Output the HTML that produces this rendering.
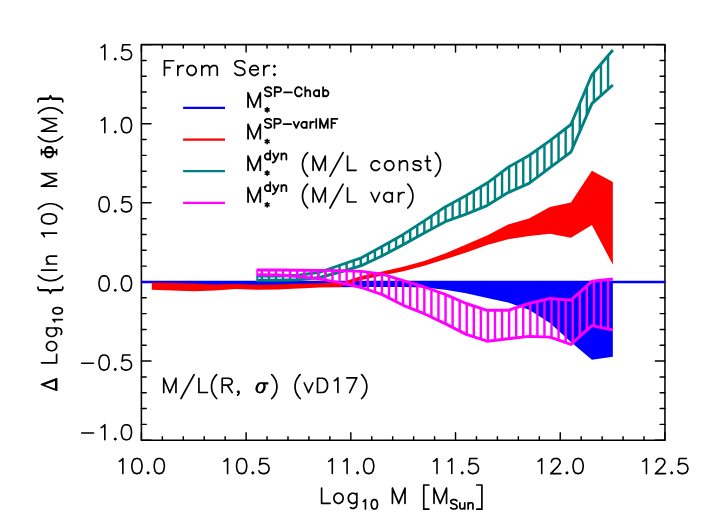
<!DOCTYPE html>
<html lang="en"><head><meta charset="utf-8"><title>Mass function residuals</title><style>html,body{margin:0;padding:0;background:#fff;overflow:hidden;font-family:"Liberation Sans",sans-serif}svg{display:block}</style></head><body>
<svg width="706" height="530" viewBox="0 0 706 530" role="img" aria-label="Delta Log10 mass function residual chart">
<rect width="706" height="530" fill="#fff"/>
<path d="M141.4 440.2v-7.5M141.4 44.6v7.5M162.34 440.2v-3.4M162.34 44.6v3.4M183.28 440.2v-3.4M183.28 44.6v3.4M204.23 440.2v-3.4M204.23 44.6v3.4M225.17 440.2v-3.4M225.17 44.6v3.4M246.11 440.2v-7.5M246.11 44.6v7.5M267.05 440.2v-3.4M267.05 44.6v3.4M287.99 440.2v-3.4M287.99 44.6v3.4M308.94 440.2v-3.4M308.94 44.6v3.4M329.88 440.2v-3.4M329.88 44.6v3.4M350.82 440.2v-7.5M350.82 44.6v7.5M371.76 440.2v-3.4M371.76 44.6v3.4M392.7 440.2v-3.4M392.7 44.6v3.4M413.65 440.2v-3.4M413.65 44.6v3.4M434.59 440.2v-3.4M434.59 44.6v3.4M455.53 440.2v-7.5M455.53 44.6v7.5M476.47 440.2v-3.4M476.47 44.6v3.4M497.41 440.2v-3.4M497.41 44.6v3.4M518.36 440.2v-3.4M518.36 44.6v3.4M539.3 440.2v-3.4M539.3 44.6v3.4M560.24 440.2v-7.5M560.24 44.6v7.5M581.18 440.2v-3.4M581.18 44.6v3.4M602.12 440.2v-3.4M602.12 44.6v3.4M623.07 440.2v-3.4M623.07 44.6v3.4M644.01 440.2v-3.4M644.01 44.6v3.4M664.95 440.2v-7.5M664.95 44.6v7.5M141.4 440.2h9.6M664.95 440.2h-9.6M141.4 424.38h4.8M664.95 424.38h-4.8M141.4 408.55h4.8M664.95 408.55h-4.8M141.4 392.73h4.8M664.95 392.73h-4.8M141.4 376.9h4.8M664.95 376.9h-4.8M141.4 361.08h9.6M664.95 361.08h-9.6M141.4 345.26h4.8M664.95 345.26h-4.8M141.4 329.43h4.8M664.95 329.43h-4.8M141.4 313.61h4.8M664.95 313.61h-4.8M141.4 297.78h4.8M664.95 297.78h-4.8M141.4 281.96h9.6M664.95 281.96h-9.6M141.4 266.14h4.8M664.95 266.14h-4.8M141.4 250.31h4.8M664.95 250.31h-4.8M141.4 234.49h4.8M664.95 234.49h-4.8M141.4 218.66h4.8M664.95 218.66h-4.8M141.4 202.84h9.6M664.95 202.84h-9.6M141.4 187.02h4.8M664.95 187.02h-4.8M141.4 171.19h4.8M664.95 171.19h-4.8M141.4 155.37h4.8M664.95 155.37h-4.8M141.4 139.54h4.8M664.95 139.54h-4.8M141.4 123.72h9.6M664.95 123.72h-9.6M141.4 107.9h4.8M664.95 107.9h-4.8M141.4 92.07h4.8M664.95 92.07h-4.8M141.4 76.25h4.8M664.95 76.25h-4.8M141.4 60.42h4.8M664.95 60.42h-4.8M141.4 44.6h9.6M664.95 44.6h-9.6" stroke="#000" stroke-width="1.45" stroke-linecap="round" fill="none"/>
<rect x="141.4" y="44.6" width="523.55" height="395.6" fill="none" stroke="#000" stroke-width="1.55" stroke-linejoin="round"/>
<polygon points="151.8,281 172.76,281 193.71,281 214.67,281 235.63,281 256.59,281 277.54,281 298.5,281 319.46,281 340.41,281 361.37,281 382.33,281 403.28,281 424.24,281 445.2,281 466.16,281 487.11,281 508.07,281 529.03,281 549.98,281 570.94,281 591.9,281 612.85,281 612.85,356.8 591.9,359.7 570.94,342.1 549.98,323 529.03,309.8 508.07,302.4 487.11,297.9 466.16,293.3 445.2,289.8 424.24,287.6 403.28,287 382.33,287 361.37,287 340.41,287.2 319.46,287 298.5,287 277.54,287 256.59,287 235.63,287 214.67,287 193.71,286.5 172.76,285 151.8,283.4" fill="#0000ff"/>
<line x1="141.4" y1="282" x2="664.95" y2="282" stroke="#0000ff" stroke-width="2.4"/>
<polygon points="151.8,282.5 172.76,283.1 193.71,283.6 214.67,284.6 235.63,284.1 256.59,284.8 277.54,284.4 298.5,283.8 319.46,283.3 340.41,282.7 361.37,276 382.33,271.6 403.28,266.8 424.24,261 445.2,253.4 466.16,244.5 487.11,235.5 508.07,224.6 529.03,218.5 549.98,207.1 570.94,202.6 591.9,170.65 612.85,182 612.85,264.7 591.9,225 570.94,237.7 549.98,233.7 529.03,235.9 508.07,239.3 487.11,245 466.16,252.5 445.2,259.3 424.24,265.7 403.28,271.2 382.33,275.4 361.37,279.9 340.41,286.9 319.46,287.4 298.5,288.5 277.54,289.4 256.59,289.7 235.63,289 214.67,290.6 193.71,291.3 172.76,290.5 151.8,289.8" fill="#ff0000"/>
<path d="M261.85 276.1V280.3M268.92 276.1V280.3M275.98 276.1V280.3M283.05 275.86V280.17M290.11 275.56V280M297.18 275.26V279.83M304.24 274.41V279.17M311.31 273.43V278.39M318.37 272.45V277.62M325.44 270.22V275.93M332.5 267.76V274.08M339.56 265.3V272.22M346.63 262.86V270.1M353.69 260.44V267.94M360.76 258.01V265.79M367.82 254.26V262.58M374.89 250.38V259.28M381.95 246.5V255.97M389.02 242.5V252.22M396.08 238.49V248.45M403.15 234.48V244.67M410.21 229.94V240.8M417.28 225.38V236.92M424.34 220.83V233.04M431.41 216.11V229.2M438.47 211.39V225.36M445.54 206.71V221.58M452.6 202.84V219.01M459.67 198.96V216.45M466.73 195.06V213.86M473.8 190.91V211M480.86 186.77V208.13M487.93 182.48V205.09M494.99 177.16V200.71M502.06 171.83V196.33M509.12 166.71V192.14M516.19 162.73V189.03M523.25 158.75V185.93M530.32 154.58V182.42M537.39 149.56V177.1M544.45 144.53V171.77M551.52 139.42V166.46M558.58 134V161.2M565.65 128.57V155.94M572.71 120.3V147.92M579.78 103.55V131.64M586.84 86.79V115.35M593.91 72.42V101.91M600.97 64.06V95.6M608.04 55.7V89.3" stroke="#008080" stroke-width="2.4" fill="none"/><polyline points="256.59,276.1 277.54,276.1 298.5,275.2 319.46,272.3 340.41,265 361.37,257.8 382.33,246.3 403.28,234.4 424.24,220.9 445.2,206.9 466.16,195.4 487.11,183.1 508.07,167.3 529.03,155.5 549.98,140.6 570.94,124.5 591.9,74.8 612.85,50" fill="none" stroke="#008080" stroke-width="2.9" stroke-linejoin="round"/><polyline points="256.59,280.3 277.54,280.3 298.5,279.8 319.46,277.5 340.41,272 361.37,265.6 382.33,255.8 403.28,244.6 424.24,233.1 445.2,221.7 466.16,214.1 487.11,205.6 508.07,192.6 529.03,183.4 549.98,167.6 570.94,152 591.9,103.7 612.85,85" fill="none" stroke="#008080" stroke-width="2.9" stroke-linejoin="round"/><line x1="257.14" y1="276.1" x2="257.14" y2="280.3" stroke="#008080" stroke-width="1.6"/>
<path d="M261.85 270V274.85M268.92 270V274.92M275.98 270V274.99M283.05 270.05V275.39M290.11 270.12V275.9M297.18 270.19V276.41M304.24 270.25V277.16M311.31 270.32V277.97M318.37 270.39V278.78M325.44 270.46V280.04M332.5 270.52V281.39M339.56 270.59V282.74M346.63 270.84V284.26M353.69 271.11V285.82M360.76 271.38V287.37M367.82 272.23V289.69M374.89 273.14V292.08M381.95 274.05V294.47M389.02 276.18V298.02M396.08 278.37V301.62M403.15 280.56V305.23M410.21 282.72V308.08M417.28 284.87V310.91M424.34 287.04V313.75M431.41 289.5V317.09M438.47 291.96V320.42M445.54 294.45V323.78M452.6 297.55V327.42M459.67 300.65V331.06M466.73 303.69V334.59M473.8 305.98V336.88M480.86 308.27V339.17M487.93 310.3V341.1M494.99 310.3V340.26M502.06 310.3V339.42M509.12 309.96V338.58M516.19 307.66V337.81M523.25 305.37V337.03M530.32 303.19V336.44M537.39 301.51V336.68M544.45 299.82V336.92M551.52 298.62V337.63M558.58 299.16V340.05M565.65 299.7V342.48M572.71 298.51V342.73M579.78 292.17V336.46M586.84 285.84V330.19M593.91 281.08V326.11M600.97 280.3V327.56M608.04 279.53V329.01" stroke="#ff00ff" stroke-width="2.4" fill="none"/><polyline points="256.59,270 277.54,270 298.5,270.2 319.46,270.4 340.41,270.6 361.37,271.4 382.33,274.1 403.28,280.6 424.24,287 445.2,294.3 466.16,303.5 487.11,310.3 508.07,310.3 529.03,303.5 549.98,298.5 570.94,300.1 591.9,281.3 612.85,279" fill="none" stroke="#ff00ff" stroke-width="2.9" stroke-linejoin="round"/><polyline points="256.59,274.8 277.54,275 298.5,276.5 319.46,278.9 340.41,282.9 361.37,287.5 382.33,294.6 403.28,305.3 424.24,313.7 445.2,323.6 466.16,334.4 487.11,341.2 508.07,338.7 529.03,336.4 549.98,337.1 570.94,344.3 591.9,325.7 612.85,330" fill="none" stroke="#ff00ff" stroke-width="2.9" stroke-linejoin="round"/><line x1="257.14" y1="270" x2="257.14" y2="274.8" stroke="#ff00ff" stroke-width="1.6"/>
<path transform="translate(131.5 59.8)" d="M-30.29 -12.22 L-28.84 -12.94 L-26.67 -15.1 L-26.67 0M-16.23 -1.44 L-16.95 -0.72 L-16.23 0 L-15.51 -0.72 L-16.23 -1.44M-1.45 -15.1 L-8.67 -15.1 L-9.4 -8.63 L-8.67 -9.35 L-6.5 -10.07 L-4.34 -10.07 L-2.17 -9.35 L-0.72 -7.91 L0 -5.75 L0 -4.31 L-0.72 -2.16 L-2.17 -0.72 L-4.34 0 L-6.5 0 L-8.67 -0.72 L-9.4 -1.44 L-10.12 -2.88" fill="none" stroke="#000" stroke-width="1.6" stroke-linecap="round" stroke-linejoin="round"/>
<path transform="translate(131.5 132.72)" d="M-30.29 -12.22 L-28.84 -12.94 L-26.67 -15.1 L-26.67 0M-16.23 -1.44 L-16.95 -0.72 L-16.23 0 L-15.51 -0.72 L-16.23 -1.44M-5.78 -15.1 L-7.95 -14.38 L-9.4 -12.22 L-10.12 -8.63 L-10.12 -6.47 L-9.4 -2.88 L-7.95 -0.72 L-5.78 0 L-4.34 0 L-2.17 -0.72 L-0.72 -2.88 L0 -6.47 L0 -8.63 L-0.72 -12.22 L-2.17 -14.38 L-4.34 -15.1 L-5.78 -15.1" fill="none" stroke="#000" stroke-width="1.6" stroke-linecap="round" stroke-linejoin="round"/>
<path transform="translate(131.5 211.84)" d="M-28.12 -15.1 L-30.29 -14.38 L-31.73 -12.22 L-32.46 -8.63 L-32.46 -6.47 L-31.73 -2.88 L-30.29 -0.72 L-28.12 0 L-26.67 0 L-24.51 -0.72 L-23.06 -2.88 L-22.34 -6.47 L-22.34 -8.63 L-23.06 -12.22 L-24.51 -14.38 L-26.67 -15.1 L-28.12 -15.1M-16.23 -1.44 L-16.95 -0.72 L-16.23 0 L-15.51 -0.72 L-16.23 -1.44M-1.45 -15.1 L-8.67 -15.1 L-9.4 -8.63 L-8.67 -9.35 L-6.5 -10.07 L-4.34 -10.07 L-2.17 -9.35 L-0.72 -7.91 L0 -5.75 L0 -4.31 L-0.72 -2.16 L-2.17 -0.72 L-4.34 0 L-6.5 0 L-8.67 -0.72 L-9.4 -1.44 L-10.12 -2.88" fill="none" stroke="#000" stroke-width="1.6" stroke-linecap="round" stroke-linejoin="round"/>
<path transform="translate(131.5 290.96)" d="M-28.12 -15.1 L-30.29 -14.38 L-31.73 -12.22 L-32.46 -8.63 L-32.46 -6.47 L-31.73 -2.88 L-30.29 -0.72 L-28.12 0 L-26.67 0 L-24.51 -0.72 L-23.06 -2.88 L-22.34 -6.47 L-22.34 -8.63 L-23.06 -12.22 L-24.51 -14.38 L-26.67 -15.1 L-28.12 -15.1M-16.23 -1.44 L-16.95 -0.72 L-16.23 0 L-15.51 -0.72 L-16.23 -1.44M-5.78 -15.1 L-7.95 -14.38 L-9.4 -12.22 L-10.12 -8.63 L-10.12 -6.47 L-9.4 -2.88 L-7.95 -0.72 L-5.78 0 L-4.34 0 L-2.17 -0.72 L-0.72 -2.88 L0 -6.47 L0 -8.63 L-0.72 -12.22 L-2.17 -14.38 L-4.34 -15.1 L-5.78 -15.1" fill="none" stroke="#000" stroke-width="1.6" stroke-linecap="round" stroke-linejoin="round"/>
<path transform="translate(131.5 370.08)" d="M-49.84 -6.87 L-37.99 -6.87M-28.12 -15.1 L-30.29 -14.38 L-31.73 -12.22 L-32.46 -8.63 L-32.46 -6.47 L-31.73 -2.88 L-30.29 -0.72 L-28.12 0 L-26.67 0 L-24.51 -0.72 L-23.06 -2.88 L-22.34 -6.47 L-22.34 -8.63 L-23.06 -12.22 L-24.51 -14.38 L-26.67 -15.1 L-28.12 -15.1M-16.23 -1.44 L-16.95 -0.72 L-16.23 0 L-15.51 -0.72 L-16.23 -1.44M-1.45 -15.1 L-8.67 -15.1 L-9.4 -8.63 L-8.67 -9.35 L-6.5 -10.07 L-4.34 -10.07 L-2.17 -9.35 L-0.72 -7.91 L0 -5.75 L0 -4.31 L-0.72 -2.16 L-2.17 -0.72 L-4.34 0 L-6.5 0 L-8.67 -0.72 L-9.4 -1.44 L-10.12 -2.88" fill="none" stroke="#000" stroke-width="1.6" stroke-linecap="round" stroke-linejoin="round"/>
<path transform="translate(131.5 439.8)" d="M-49.84 -6.87 L-37.99 -6.87M-30.29 -12.22 L-28.84 -12.94 L-26.67 -15.1 L-26.67 0M-16.23 -1.44 L-16.95 -0.72 L-16.23 0 L-15.51 -0.72 L-16.23 -1.44M-5.78 -15.1 L-7.95 -14.38 L-9.4 -12.22 L-10.12 -8.63 L-10.12 -6.47 L-9.4 -2.88 L-7.95 -0.72 L-5.78 0 L-4.34 0 L-2.17 -0.72 L-0.72 -2.88 L0 -6.47 L0 -8.63 L-0.72 -12.22 L-2.17 -14.38 L-4.34 -15.1 L-5.78 -15.1" fill="none" stroke="#000" stroke-width="1.6" stroke-linecap="round" stroke-linejoin="round"/>
<path transform="translate(141.8 473.6)" d="M-22.54 -12.22 L-21.09 -12.94 L-18.92 -15.1 L-18.92 0M-5.58 -15.1 L-7.75 -14.38 L-9.2 -12.22 L-9.92 -8.63 L-9.92 -6.47 L-9.2 -2.88 L-7.75 -0.72 L-5.58 0 L-4.14 0 L-1.97 -0.72 L-0.53 -2.88 L0.2 -6.47 L0.2 -8.63 L-0.53 -12.22 L-1.97 -14.38 L-4.14 -15.1 L-5.58 -15.1M6.31 -1.44 L5.58 -0.72 L6.31 0 L7.03 -0.72 L6.31 -1.44M16.75 -15.1 L14.59 -14.38 L13.14 -12.22 L12.42 -8.63 L12.42 -6.47 L13.14 -2.88 L14.59 -0.72 L16.75 0 L18.2 0 L20.37 -0.72 L21.81 -2.88 L22.54 -6.47 L22.54 -8.63 L21.81 -12.22 L20.37 -14.38 L18.2 -15.1 L16.75 -15.1" fill="none" stroke="#000" stroke-width="1.6" stroke-linecap="round" stroke-linejoin="round"/>
<path transform="translate(246.51 473.6)" d="M-22.54 -12.22 L-21.09 -12.94 L-18.92 -15.1 L-18.92 0M-5.58 -15.1 L-7.75 -14.38 L-9.2 -12.22 L-9.92 -8.63 L-9.92 -6.47 L-9.2 -2.88 L-7.75 -0.72 L-5.58 0 L-4.14 0 L-1.97 -0.72 L-0.53 -2.88 L0.2 -6.47 L0.2 -8.63 L-0.53 -12.22 L-1.97 -14.38 L-4.14 -15.1 L-5.58 -15.1M6.31 -1.44 L5.58 -0.72 L6.31 0 L7.03 -0.72 L6.31 -1.44M21.09 -15.1 L13.86 -15.1 L13.14 -8.63 L13.86 -9.35 L16.03 -10.07 L18.2 -10.07 L20.37 -9.35 L21.81 -7.91 L22.54 -5.75 L22.54 -4.31 L21.81 -2.16 L20.37 -0.72 L18.2 0 L16.03 0 L13.86 -0.72 L13.14 -1.44 L12.42 -2.88" fill="none" stroke="#000" stroke-width="1.6" stroke-linecap="round" stroke-linejoin="round"/>
<path transform="translate(351.22 473.6)" d="M-22.54 -12.22 L-21.09 -12.94 L-18.92 -15.1 L-18.92 0M-7.75 -12.22 L-6.31 -12.94 L-4.14 -15.1 L-4.14 0M6.31 -1.44 L5.58 -0.72 L6.31 0 L7.03 -0.72 L6.31 -1.44M16.75 -15.1 L14.59 -14.38 L13.14 -12.22 L12.42 -8.63 L12.42 -6.47 L13.14 -2.88 L14.59 -0.72 L16.75 0 L18.2 0 L20.37 -0.72 L21.81 -2.88 L22.54 -6.47 L22.54 -8.63 L21.81 -12.22 L20.37 -14.38 L18.2 -15.1 L16.75 -15.1" fill="none" stroke="#000" stroke-width="1.6" stroke-linecap="round" stroke-linejoin="round"/>
<path transform="translate(455.93 473.6)" d="M-22.54 -12.22 L-21.09 -12.94 L-18.92 -15.1 L-18.92 0M-7.75 -12.22 L-6.31 -12.94 L-4.14 -15.1 L-4.14 0M6.31 -1.44 L5.58 -0.72 L6.31 0 L7.03 -0.72 L6.31 -1.44M21.09 -15.1 L13.86 -15.1 L13.14 -8.63 L13.86 -9.35 L16.03 -10.07 L18.2 -10.07 L20.37 -9.35 L21.81 -7.91 L22.54 -5.75 L22.54 -4.31 L21.81 -2.16 L20.37 -0.72 L18.2 0 L16.03 0 L13.86 -0.72 L13.14 -1.44 L12.42 -2.88" fill="none" stroke="#000" stroke-width="1.6" stroke-linecap="round" stroke-linejoin="round"/>
<path transform="translate(560.64 473.6)" d="M-22.54 -12.22 L-21.09 -12.94 L-18.92 -15.1 L-18.92 0M-9.2 -11.5 L-9.2 -12.22 L-8.48 -13.66 L-7.75 -14.38 L-6.31 -15.1 L-3.42 -15.1 L-1.97 -14.38 L-1.25 -13.66 L-0.53 -12.22 L-0.53 -10.79 L-1.25 -9.35 L-2.69 -7.19 L-9.92 0 L0.2 0M6.31 -1.44 L5.58 -0.72 L6.31 0 L7.03 -0.72 L6.31 -1.44M16.75 -15.1 L14.59 -14.38 L13.14 -12.22 L12.42 -8.63 L12.42 -6.47 L13.14 -2.88 L14.59 -0.72 L16.75 0 L18.2 0 L20.37 -0.72 L21.81 -2.88 L22.54 -6.47 L22.54 -8.63 L21.81 -12.22 L20.37 -14.38 L18.2 -15.1 L16.75 -15.1" fill="none" stroke="#000" stroke-width="1.6" stroke-linecap="round" stroke-linejoin="round"/>
<path transform="translate(665.35 473.6)" d="M-22.54 -12.22 L-21.09 -12.94 L-18.92 -15.1 L-18.92 0M-9.2 -11.5 L-9.2 -12.22 L-8.48 -13.66 L-7.75 -14.38 L-6.31 -15.1 L-3.42 -15.1 L-1.97 -14.38 L-1.25 -13.66 L-0.53 -12.22 L-0.53 -10.79 L-1.25 -9.35 L-2.69 -7.19 L-9.92 0 L0.2 0M6.31 -1.44 L5.58 -0.72 L6.31 0 L7.03 -0.72 L6.31 -1.44M21.09 -15.1 L13.86 -15.1 L13.14 -8.63 L13.86 -9.35 L16.03 -10.07 L18.2 -10.07 L20.37 -9.35 L21.81 -7.91 L22.54 -5.75 L22.54 -4.31 L21.81 -2.16 L20.37 -0.72 L18.2 0 L16.03 0 L13.86 -0.72 L13.14 -1.44 L12.42 -2.88" fill="none" stroke="#000" stroke-width="1.6" stroke-linecap="round" stroke-linejoin="round"/>
<path transform="translate(321.61 503.3)" d="M0 -15.1 L0 0M0 0 L8.5 0M15.83 -10.07 L14.42 -9.35 L13 -7.91 L12.29 -5.75 L12.29 -4.31 L13 -2.16 L14.42 -0.72 L15.83 0 L17.96 0 L19.37 -0.72 L20.79 -2.16 L21.5 -4.31 L21.5 -5.75 L20.79 -7.91 L19.37 -9.35 L17.96 -10.07 L15.83 -10.07M35.21 -10.07 L35.21 1.44 L34.5 3.6 L33.79 4.31 L32.37 5.03 L30.25 5.03 L28.83 4.31M35.21 -7.91 L33.79 -9.35 L32.37 -10.07 L30.25 -10.07 L28.83 -9.35 L27.42 -7.91 L26.71 -5.75 L26.71 -4.31 L27.42 -2.16 L28.83 -0.72 L30.25 0 L32.37 0 L33.79 -0.72 L35.21 -2.16M41.63 -1.88 L42.51 -2.33 L43.83 -3.67 L43.83 5.69M52.33 -3.67 L51.01 -3.22 L50.13 -1.88 L49.69 0.34 L49.69 1.68 L50.13 3.91 L51.01 5.25 L52.33 5.69 L53.21 5.69 L54.52 5.25 L55.4 3.91 L55.84 1.68 L55.84 0.34 L55.4 -1.88 L54.52 -3.22 L53.21 -3.67 L52.33 -3.67" fill="none" stroke="#000" stroke-width="1.7" stroke-linecap="round" stroke-linejoin="round"/>
<path transform="translate(392.45 503.3)" d="M0 -15.1 L0 0M0 -15.1 L6.28 0M12.56 -15.1 L6.28 0M12.56 -15.1 L12.56 0" fill="none" stroke="#000" stroke-width="1.7" stroke-linecap="round" stroke-linejoin="round"/>
<path transform="translate(423.75 503.3)" d="M0 -18.3 L0 5.87M0 -18.3 L5.11 -18.3M0 5.87 L5.11 5.87M10.25 -15.1 L10.25 0M10.25 -15.1 L16.52 0M22.8 -15.1 L16.52 0M22.8 -15.1 L22.8 0M33.21 -2.33 L32.33 -3.22 L31.02 -3.67 L29.26 -3.67 L27.94 -3.22 L27.06 -2.33 L27.06 -1.44 L27.5 -0.55 L27.94 -0.1 L28.82 0.34 L31.45 1.24 L32.33 1.68 L32.77 2.13 L33.21 3.02 L33.21 4.36 L32.33 5.25 L31.02 5.69 L29.26 5.69 L27.94 5.25 L27.06 4.36M36.16 -0.55 L36.16 3.91 L36.6 5.25 L37.48 5.69 L38.8 5.69 L39.68 5.25 L40.99 3.91M40.99 -0.55 L40.99 5.69M44.38 -0.55 L44.38 5.69M44.38 1.24 L45.7 -0.1 L46.58 -0.55 L47.9 -0.55 L48.77 -0.1 L49.21 1.24 L49.21 5.69M58.15 -18.3 L58.15 5.87M53.04 -18.3 L58.15 -18.3M53.04 5.87 L58.15 5.87" fill="none" stroke="#000" stroke-width="1.7" stroke-linecap="round" stroke-linejoin="round"/>
<path transform="translate(56.6 390.15) rotate(-90)" d="M5.66 -15.1 L0 0M5.66 -15.1 L11.33 0M5.66 -12.94 L10.62 0M0.71 -0.72 L10.62 -0.72M0 0 L11.33 0" fill="none" stroke="#000" stroke-width="1.7" stroke-linecap="round" stroke-linejoin="round"/>
<path transform="translate(56.6 362.85) rotate(-90)" d="M0 -15.1 L0 0M0 0 L8.5 0M15.66 -10.07 L14.24 -9.35 L12.82 -7.91 L12.11 -5.75 L12.11 -4.31 L12.82 -2.16 L14.24 -0.72 L15.66 0 L17.78 0 L19.2 -0.72 L20.61 -2.16 L21.32 -4.31 L21.32 -5.75 L20.61 -7.91 L19.2 -9.35 L17.78 -10.07 L15.66 -10.07M34.85 -10.07 L34.85 1.44 L34.14 3.6 L33.44 4.31 L32.02 5.03 L29.89 5.03 L28.48 4.31M34.85 -7.91 L33.44 -9.35 L32.02 -10.07 L29.89 -10.07 L28.48 -9.35 L27.06 -7.91 L26.35 -5.75 L26.35 -4.31 L27.06 -2.16 L28.48 -0.72 L29.89 0 L32.02 0 L33.44 -0.72 L34.85 -2.16M41.1 -1.88 L41.98 -2.33 L43.3 -3.67 L43.3 5.69M51.69 -3.67 L50.37 -3.22 L49.49 -1.88 L49.05 0.34 L49.05 1.68 L49.49 3.91 L50.37 5.25 L51.69 5.69 L52.57 5.69 L53.88 5.25 L54.76 3.91 L55.2 1.68 L55.2 0.34 L54.76 -1.88 L53.88 -3.22 L52.57 -3.67 L51.69 -3.67" fill="none" stroke="#000" stroke-width="1.7" stroke-linecap="round" stroke-linejoin="round"/>
<path transform="translate(56.6 293.15) rotate(-90)" d="M6.06 -18.61 L4.53 -18.53 L3.36 -18 L2.66 -16.79 L2.66 -8.48 L2.12 -7.27 L0 -6.22 L2.12 -5.16 L2.66 -3.95 L2.66 4.36 L3.36 5.57 L4.53 6.1 L6.06 6.18M3.39 -16.34 L3.39 -8.63 L2.77 -7.42 L0.8 -6.22 L2.77 -5.01 L3.39 -3.8 L3.39 3.91M17.59 -18.3 L16.13 -16.79 L14.67 -14.53 L13.21 -11.5 L12.48 -7.73 L12.48 -4.7 L13.21 -0.93 L14.67 2.1 L16.13 4.36 L17.59 5.87M23.06 -15.1 L23.06 0M29.16 -10.07 L29.16 0M29.16 -7.19 L31.29 -9.35 L32.7 -10.07 L34.83 -10.07 L36.24 -9.35 L36.95 -7.19 L36.95 0" fill="none" stroke="#000" stroke-width="1.7" stroke-linecap="round" stroke-linejoin="round"/>
<path transform="translate(56.6 236.65) rotate(-90)" d="M0 -12.22 L1.42 -12.94 L3.54 -15.1 L3.54 0M17.05 -15.1 L14.92 -14.38 L13.51 -12.22 L12.8 -8.63 L12.8 -6.47 L13.51 -2.88 L14.92 -0.72 L17.05 0 L18.46 0 L20.59 -0.72 L22.01 -2.88 L22.71 -6.47 L22.71 -8.63 L22.01 -12.22 L20.59 -14.38 L18.46 -15.1 L17.05 -15.1M27.79 -18.3 L29.25 -16.79 L30.71 -14.53 L32.17 -11.5 L32.9 -7.73 L32.9 -4.7 L32.17 -0.93 L30.71 2.1 L29.25 4.36 L27.79 5.87" fill="none" stroke="#000" stroke-width="1.7" stroke-linecap="round" stroke-linejoin="round"/>
<path transform="translate(56.6 186.15) rotate(-90)" d="M0 -15.1 L0 0M0 -15.1 L6.28 0M12.56 -15.1 L6.28 0M12.56 -15.1 L12.56 0" fill="none" stroke="#000" stroke-width="1.7" stroke-linecap="round" stroke-linejoin="round"/>
<path transform="translate(56.6 157.45) rotate(-90)" d="M4.96 -15.1 L4.96 0M5.66 -15.1 L5.66 0M3.54 -11.5 L1.42 -10.79 L0.71 -10.07 L0 -8.63 L0 -6.47 L0.71 -5.03 L1.42 -4.31 L3.54 -3.6 L7.08 -3.6 L9.21 -4.31 L9.91 -5.03 L10.62 -6.47 L10.62 -8.63 L9.91 -10.07 L9.21 -10.79 L7.08 -11.5 L3.54 -11.5M3.54 -11.5 L2.12 -10.79 L1.42 -10.07 L0.71 -8.63 L0.71 -6.47 L1.42 -5.03 L2.12 -4.31 L3.54 -3.6M7.08 -3.6 L8.5 -4.31 L9.21 -5.03 L9.91 -6.47 L9.91 -8.63 L9.21 -10.07 L8.5 -10.79 L7.08 -11.5M2.83 -15.1 L7.79 -15.1M2.83 0 L7.79 0M20.91 -18.3 L19.45 -16.79 L17.99 -14.53 L16.53 -11.5 L15.8 -7.73 L15.8 -4.7 L16.53 -0.93 L17.99 2.1 L19.45 4.36 L20.91 5.87M26.38 -15.1 L26.38 0M26.38 -15.1 L32.66 0M38.94 -15.1 L32.66 0M38.94 -15.1 L38.94 0M44.41 -18.3 L45.87 -16.79 L47.33 -14.53 L48.79 -11.5 L49.52 -7.73 L49.52 -4.7 L48.79 -0.93 L47.33 2.1 L45.87 4.36 L44.41 5.87M55.64 -18.61 L57.17 -18.53 L58.34 -18 L59.04 -16.79 L59.04 -8.48 L59.58 -7.27 L61.7 -6.22 L59.58 -5.16 L59.04 -3.95 L59.04 4.36 L58.34 5.57 L57.17 6.1 L55.64 6.18M58.31 -16.34 L58.31 -8.63 L58.93 -7.42 L60.9 -6.22 L58.93 -5.01 L58.31 -3.8 L58.31 3.91" fill="none" stroke="#000" stroke-width="1.7" stroke-linecap="round" stroke-linejoin="round"/>
<path transform="translate(164.45 75.3)" d="M0 -14.56 L0 0M0 -14.56 L9.11 -14.56M0 -7.63 L5.61 -7.63M13.4 -9.71 L13.4 0M13.4 -5.55 L14.1 -7.63 L15.5 -9.02 L16.9 -9.71 L19.01 -9.71M26.1 -9.71 L24.7 -9.02 L23.3 -7.63 L22.59 -5.55 L22.59 -4.16 L23.3 -2.08 L24.7 -0.69 L26.1 0 L28.2 0 L29.6 -0.69 L31 -2.08 L31.7 -4.16 L31.7 -5.55 L31 -7.63 L29.6 -9.02 L28.2 -9.71 L26.1 -9.71M37.4 -9.71 L37.4 0M37.4 -6.93 L39.5 -9.02 L40.9 -9.71 L43 -9.71 L44.4 -9.02 L45.1 -6.93 L45.1 0M45.1 -6.93 L47.21 -9.02 L48.61 -9.71 L50.71 -9.71 L52.11 -9.02 L52.81 -6.93 L52.81 0M80.31 -12.48 L78.91 -13.87 L76.81 -14.56 L74.01 -14.56 L71.9 -13.87 L70.5 -12.48 L70.5 -11.1 L71.2 -9.71 L71.9 -9.02 L73.3 -8.32 L77.51 -6.93 L78.91 -6.24 L79.61 -5.55 L80.31 -4.16 L80.31 -2.08 L78.91 -0.69 L76.81 0 L74.01 0 L71.9 -0.69 L70.5 -2.08M85.3 -5.55 L93.71 -5.55 L93.71 -6.93 L93.01 -8.32 L92.31 -9.02 L90.91 -9.71 L88.81 -9.71 L87.41 -9.02 L86 -7.63 L85.3 -5.55 L85.3 -4.16 L86 -2.08 L87.41 -0.69 L88.81 0 L90.91 0 L92.31 -0.69 L93.71 -2.08M99.4 -9.71 L99.4 0M99.4 -5.55 L100.1 -7.63 L101.51 -9.02 L102.91 -9.71 L105.01 -9.71M110 -9.71 L109.3 -9.02 L110 -8.32 L110.7 -9.02 L110 -9.71M110 -1.39 L109.3 -0.69 L110 0 L110.7 -0.69 L110 -1.39" fill="none" stroke="#000" stroke-width="1.7" stroke-linecap="round" stroke-linejoin="round"/>
<line x1="183.1" y1="107.9" x2="225" y2="107.9" stroke="#0000ff" stroke-width="2.3"/>
<path transform="translate(248.05 107.1)" d="M0 -14.26 L0 0M0 -14.26 L6.1 0M12.21 -14.26 L6.1 0M12.21 -14.26 L12.21 0" fill="none" stroke="#000" stroke-width="1.8" stroke-linecap="round" stroke-linejoin="round"/>
<path transform="translate(264.95 96.25)" d="M6.25 -7.7 L5.35 -8.55 L4.01 -8.98 L2.23 -8.98 L0.89 -8.55 L0 -7.7 L0 -6.84 L0.45 -5.99 L0.89 -5.56 L1.78 -5.13 L4.46 -4.28 L5.35 -3.85 L5.8 -3.42 L6.25 -2.57 L6.25 -1.28 L5.35 -0.43 L4.01 0 L2.23 0 L0.89 -0.43 L0 -1.28M9.8 -8.98 L9.8 0M9.8 -8.98 L13.81 -8.98 L15.15 -8.55 L15.59 -8.13 L16.04 -7.27 L16.04 -5.99 L15.59 -5.13 L15.15 -4.7 L13.81 -4.28 L9.8 -4.28M19.23 -3.85 L26.91 -3.85M36.79 -6.84 L36.34 -7.7 L35.45 -8.55 L34.56 -8.98 L32.78 -8.98 L31.88 -8.55 L30.99 -7.7 L30.55 -6.84 L30.1 -5.56 L30.1 -3.42 L30.55 -2.14 L30.99 -1.28 L31.88 -0.43 L32.78 0 L34.56 0 L35.45 -0.43 L36.34 -1.28 L36.79 -2.14M40.34 -8.98 L40.34 0M40.34 -4.28 L41.68 -5.56 L42.57 -5.99 L43.91 -5.99 L44.8 -5.56 L45.25 -4.28 L45.25 0M54.15 -5.99 L54.15 0M54.15 -4.7 L53.26 -5.56 L52.37 -5.99 L51.03 -5.99 L50.14 -5.56 L49.24 -4.7 L48.8 -3.42 L48.8 -2.57 L49.24 -1.28 L50.14 -0.43 L51.03 0 L52.37 0 L53.26 -0.43 L54.15 -1.28M58.15 -8.98 L58.15 0M58.15 -4.7 L59.04 -5.56 L59.93 -5.99 L61.27 -5.99 L62.16 -5.56 L63.05 -4.7 L63.5 -3.42 L63.5 -2.57 L63.05 -1.28 L62.16 -0.43 L61.27 0 L59.93 0 L59.04 -0.43 L58.15 -1.28" fill="none" stroke="#000" stroke-width="1.8" stroke-linecap="round" stroke-linejoin="round"/>
<path transform="translate(267.15 113.15)" d="M0 -5.5 L0 -1.1M-1.91 -4.4 L1.91 -2.2M1.91 -4.4 L-1.91 -2.2" fill="none" stroke="#000" stroke-width="1.65" stroke-linecap="round" stroke-linejoin="round"/>
<line x1="183.1" y1="139.53" x2="225" y2="139.53" stroke="#ff0000" stroke-width="2.3"/>
<path transform="translate(248.05 138.73)" d="M0 -14.26 L0 0M0 -14.26 L6.1 0M12.21 -14.26 L6.1 0M12.21 -14.26 L12.21 0" fill="none" stroke="#000" stroke-width="1.8" stroke-linecap="round" stroke-linejoin="round"/>
<path transform="translate(264.95 127.88)" d="M6.25 -7.7 L5.35 -8.55 L4.01 -8.98 L2.23 -8.98 L0.89 -8.55 L0 -7.7 L0 -6.84 L0.45 -5.99 L0.89 -5.56 L1.78 -5.13 L4.46 -4.28 L5.35 -3.85 L5.8 -3.42 L6.25 -2.57 L6.25 -1.28 L5.35 -0.43 L4.01 0 L2.23 0 L0.89 -0.43 L0 -1.28M9.47 -8.98 L9.47 0M9.47 -8.98 L13.49 -8.98 L14.82 -8.55 L15.27 -8.13 L15.72 -7.27 L15.72 -5.99 L15.27 -5.13 L14.82 -4.7 L13.49 -4.28 L9.47 -4.28M18.58 -3.85 L26.26 -3.85M28.68 -5.99 L31.36 0M34.03 -5.99 L31.36 0M41.72 -5.99 L41.72 0M41.72 -4.7 L40.83 -5.56 L39.93 -5.99 L38.6 -5.99 L37.7 -5.56 L36.81 -4.7 L36.37 -3.42 L36.37 -2.57 L36.81 -1.28 L37.7 -0.43 L38.6 0 L39.93 0 L40.83 -0.43 L41.72 -1.28M45.39 -5.99 L45.39 0M45.39 -3.42 L45.84 -4.7 L46.73 -5.56 L47.62 -5.99 L48.96 -5.99M51.29 -8.98 L51.29 0M55.1 -8.98 L55.1 0M55.1 -8.98 L58.95 0M62.79 -8.98 L58.95 0M62.79 -8.98 L62.79 0M66.6 -8.98 L66.6 0M66.6 -8.98 L72.4 -8.98M66.6 -4.7 L70.17 -4.7" fill="none" stroke="#000" stroke-width="1.8" stroke-linecap="round" stroke-linejoin="round"/>
<path transform="translate(267.15 144.78)" d="M0 -5.5 L0 -1.1M-1.91 -4.4 L1.91 -2.2M1.91 -4.4 L-1.91 -2.2" fill="none" stroke="#000" stroke-width="1.65" stroke-linecap="round" stroke-linejoin="round"/>
<line x1="183.1" y1="171.16" x2="225" y2="171.16" stroke="#008080" stroke-width="2.3"/>
<path transform="translate(248.05 170.36)" d="M0 -14.26 L0 0M0 -14.26 L6.1 0M12.21 -14.26 L6.1 0M12.21 -14.26 L12.21 0" fill="none" stroke="#000" stroke-width="1.8" stroke-linecap="round" stroke-linejoin="round"/>
<path transform="translate(264.85 159.51)" d="M5.35 -8.98 L5.35 0M5.35 -4.7 L4.46 -5.56 L3.57 -5.99 L2.23 -5.99 L1.34 -5.56 L0.45 -4.7 L0 -3.42 L0 -2.57 L0.45 -1.28 L1.34 -0.43 L2.23 0 L3.57 0 L4.46 -0.43 L5.35 -1.28M8.3 -5.99 L10.97 0M13.65 -5.99 L10.97 0 L10.08 1.71 L9.19 2.57 L8.3 2.99 L7.85 2.99M16.59 -5.99 L16.59 0M16.59 -4.28 L17.93 -5.56 L18.82 -5.99 L20.16 -5.99 L21.05 -5.56 L21.5 -4.28 L21.5 0" fill="none" stroke="#000" stroke-width="1.8" stroke-linecap="round" stroke-linejoin="round"/>
<path transform="translate(267.15 176.41)" d="M0 -5.5 L0 -1.1M-1.91 -4.4 L1.91 -2.2M1.91 -4.4 L-1.91 -2.2" fill="none" stroke="#000" stroke-width="1.65" stroke-linecap="round" stroke-linejoin="round"/>
<path transform="translate(302.55 170.36)" d="M5.11 -17.81 L3.65 -16.32 L2.19 -14.09 L0.73 -11.11 L0 -7.39 L0 -4.41 L0.73 -0.69 L2.19 2.29 L3.65 4.53 L5.11 6.02M10.52 -14.26 L10.52 0M10.52 -14.26 L16.62 0M22.72 -14.26 L16.62 0M22.72 -14.26 L22.72 0M40.54 -17.81 L27.4 6.02M45 -14.26 L45 0M45 0 L53.5 0" fill="none" stroke="#000" stroke-width="1.7" stroke-linecap="round" stroke-linejoin="round"/>
<path transform="translate(371.05 170.36)" d="M8.5 -7.47 L7.08 -8.83 L5.66 -9.5 L3.54 -9.5 L2.12 -8.83 L0.71 -7.47 L0 -5.43 L0 -4.07 L0.71 -2.04 L2.12 -0.68 L3.54 0 L5.66 0 L7.08 -0.68 L8.5 -2.04M17.09 -9.5 L15.68 -8.83 L14.26 -7.47 L13.55 -5.43 L13.55 -4.07 L14.26 -2.04 L15.68 -0.68 L17.09 0 L19.22 0 L20.63 -0.68 L22.05 -2.04 L22.76 -4.07 L22.76 -5.43 L22.05 -7.47 L20.63 -8.83 L19.22 -9.5 L17.09 -9.5M28.52 -9.5 L28.52 0M28.52 -6.79 L30.65 -8.83 L32.06 -9.5 L34.19 -9.5 L35.6 -8.83 L36.31 -6.79 L36.31 0M49.86 -7.47 L49.16 -8.83 L47.03 -9.5 L44.91 -9.5 L42.78 -8.83 L42.08 -7.47 L42.78 -6.11 L44.2 -5.43 L47.74 -4.75 L49.16 -4.07 L49.86 -2.72 L49.86 -2.04 L49.16 -0.68 L47.03 0 L44.91 0 L42.78 -0.68 L42.08 -2.04M56.34 -14.26 L56.34 -2.72 L57.04 -0.68 L58.46 0 L59.88 0M54.21 -9.5 L59.17 -9.5M64.29 -17.81 L65.75 -16.32 L67.21 -14.09 L68.67 -11.11 L69.4 -7.39 L69.4 -4.41 L68.67 -0.69 L67.21 2.29 L65.75 4.53 L64.29 6.02" fill="none" stroke="#000" stroke-width="1.7" stroke-linecap="round" stroke-linejoin="round"/>
<line x1="183.1" y1="202.79" x2="225" y2="202.79" stroke="#ff00ff" stroke-width="2.3"/>
<path transform="translate(248.05 201.99)" d="M0 -14.26 L0 0M0 -14.26 L6.1 0M12.21 -14.26 L6.1 0M12.21 -14.26 L12.21 0" fill="none" stroke="#000" stroke-width="1.8" stroke-linecap="round" stroke-linejoin="round"/>
<path transform="translate(264.85 191.14)" d="M5.35 -8.98 L5.35 0M5.35 -4.7 L4.46 -5.56 L3.57 -5.99 L2.23 -5.99 L1.34 -5.56 L0.45 -4.7 L0 -3.42 L0 -2.57 L0.45 -1.28 L1.34 -0.43 L2.23 0 L3.57 0 L4.46 -0.43 L5.35 -1.28M8.3 -5.99 L10.97 0M13.65 -5.99 L10.97 0 L10.08 1.71 L9.19 2.57 L8.3 2.99 L7.85 2.99M16.59 -5.99 L16.59 0M16.59 -4.28 L17.93 -5.56 L18.82 -5.99 L20.16 -5.99 L21.05 -5.56 L21.5 -4.28 L21.5 0" fill="none" stroke="#000" stroke-width="1.8" stroke-linecap="round" stroke-linejoin="round"/>
<path transform="translate(267.15 208.04)" d="M0 -5.5 L0 -1.1M-1.91 -4.4 L1.91 -2.2M1.91 -4.4 L-1.91 -2.2" fill="none" stroke="#000" stroke-width="1.65" stroke-linecap="round" stroke-linejoin="round"/>
<path transform="translate(302.55 201.99)" d="M5.11 -17.81 L3.65 -16.32 L2.19 -14.09 L0.73 -11.11 L0 -7.39 L0 -4.41 L0.73 -0.69 L2.19 2.29 L3.65 4.53 L5.11 6.02M10.52 -14.26 L10.52 0M10.52 -14.26 L16.62 0M22.72 -14.26 L16.62 0M22.72 -14.26 L22.72 0M40.54 -17.81 L27.4 6.02M45 -14.26 L45 0M45 0 L53.5 0" fill="none" stroke="#000" stroke-width="1.7" stroke-linecap="round" stroke-linejoin="round"/>
<path transform="translate(371.05 201.99)" d="M0 -9.5 L4.25 0M8.5 -9.5 L4.25 0M21.18 -9.5 L21.18 0M21.18 -7.47 L19.76 -8.83 L18.34 -9.5 L16.22 -9.5 L14.8 -8.83 L13.39 -7.47 L12.68 -5.43 L12.68 -4.07 L13.39 -2.04 L14.8 -0.68 L16.22 0 L18.34 0 L19.76 -0.68 L21.18 -2.04M27.48 -9.5 L27.48 0M27.48 -5.43 L28.19 -7.47 L29.61 -8.83 L31.03 -9.5 L33.15 -9.5M36.69 -17.81 L38.15 -16.32 L39.61 -14.09 L41.07 -11.11 L41.8 -7.39 L41.8 -4.41 L41.07 -0.69 L39.61 2.29 L38.15 4.53 L36.69 6.02" fill="none" stroke="#000" stroke-width="1.7" stroke-linecap="round" stroke-linejoin="round"/>
<path transform="translate(163.75 392.5)" d="M0 -14.26 L0 0M0 -14.26 L6.1 0M12.21 -14.26 L6.1 0M12.21 -14.26 L12.21 0M30.37 -17.81 L17.23 6.02M35.17 -14.26 L35.17 0M35.17 0 L43.67 0M52.92 -17.81 L51.46 -16.32 L50 -14.09 L48.54 -11.11 L47.81 -7.39 L47.81 -4.41 L48.54 -0.69 L50 2.29 L51.46 4.53 L52.92 6.02M58.46 -14.26 L58.46 0M58.46 -14.26 L64.83 -14.26 L66.95 -13.58 L67.66 -12.9 L68.37 -11.54 L68.37 -10.18 L67.66 -8.83 L66.95 -8.15 L64.83 -7.47 L58.46 -7.47M63.41 -7.47 L68.37 0M75.25 -0.68 L74.55 0 L73.84 -0.68 L74.55 -1.36 L75.25 -0.68 L75.25 0.68 L74.55 2.04 L73.84 2.72M103.89 -9.5 L96.81 -9.5 L94.69 -8.83 L93.27 -6.79 L92.56 -4.75 L92.56 -2.72 L93.27 -1.36 L93.98 -0.68 L95.4 0 L96.81 0 L98.94 -0.68 L100.35 -2.72 L101.06 -4.75 L101.06 -6.79 L100.35 -8.15 L99.65 -8.83 L98.23 -9.5M96.81 -9.5 L95.4 -8.83 L93.98 -6.79 L93.27 -4.75 L93.27 -2.04 L93.98 -0.68M96.81 0 L98.23 -0.68 L99.65 -2.72 L100.35 -4.75 L100.35 -7.47 L99.65 -8.83M99.65 -8.83 L103.89 -8.83M108.01 -17.81 L109.47 -16.32 L110.93 -14.09 L112.39 -11.11 L113.12 -7.39 L113.12 -4.41 L112.39 -0.69 L110.93 2.29 L109.47 4.53 L108.01 6.02M136.43 -17.81 L134.97 -16.32 L133.51 -14.09 L132.05 -11.11 L131.32 -7.39 L131.32 -4.41 L132.05 -0.69 L133.51 2.29 L134.97 4.53 L136.43 6.02M140.54 -9.5 L144.79 0M149.04 -9.5 L144.79 0M153.8 -14.26 L153.8 0M153.8 -14.26 L158.76 -14.26 L160.88 -13.58 L162.3 -12.22 L163.01 -10.86 L163.72 -8.83 L163.72 -5.43 L163.01 -3.39 L162.3 -2.04 L160.88 -0.68 L158.76 0 L153.8 0M170.6 -11.79 L172.02 -12.48 L174.14 -14.56 L174.14 0M193.06 -14.56 L185.98 0M183.15 -14.56 L193.06 -14.56M197.89 -17.81 L199.35 -16.32 L200.81 -14.09 L202.27 -11.11 L203 -7.39 L203 -4.41 L202.27 -0.69 L200.81 2.29 L199.35 4.53 L197.89 6.02" fill="none" stroke="#000" stroke-width="1.7" stroke-linecap="round" stroke-linejoin="round"/>
</svg>
</body></html>
